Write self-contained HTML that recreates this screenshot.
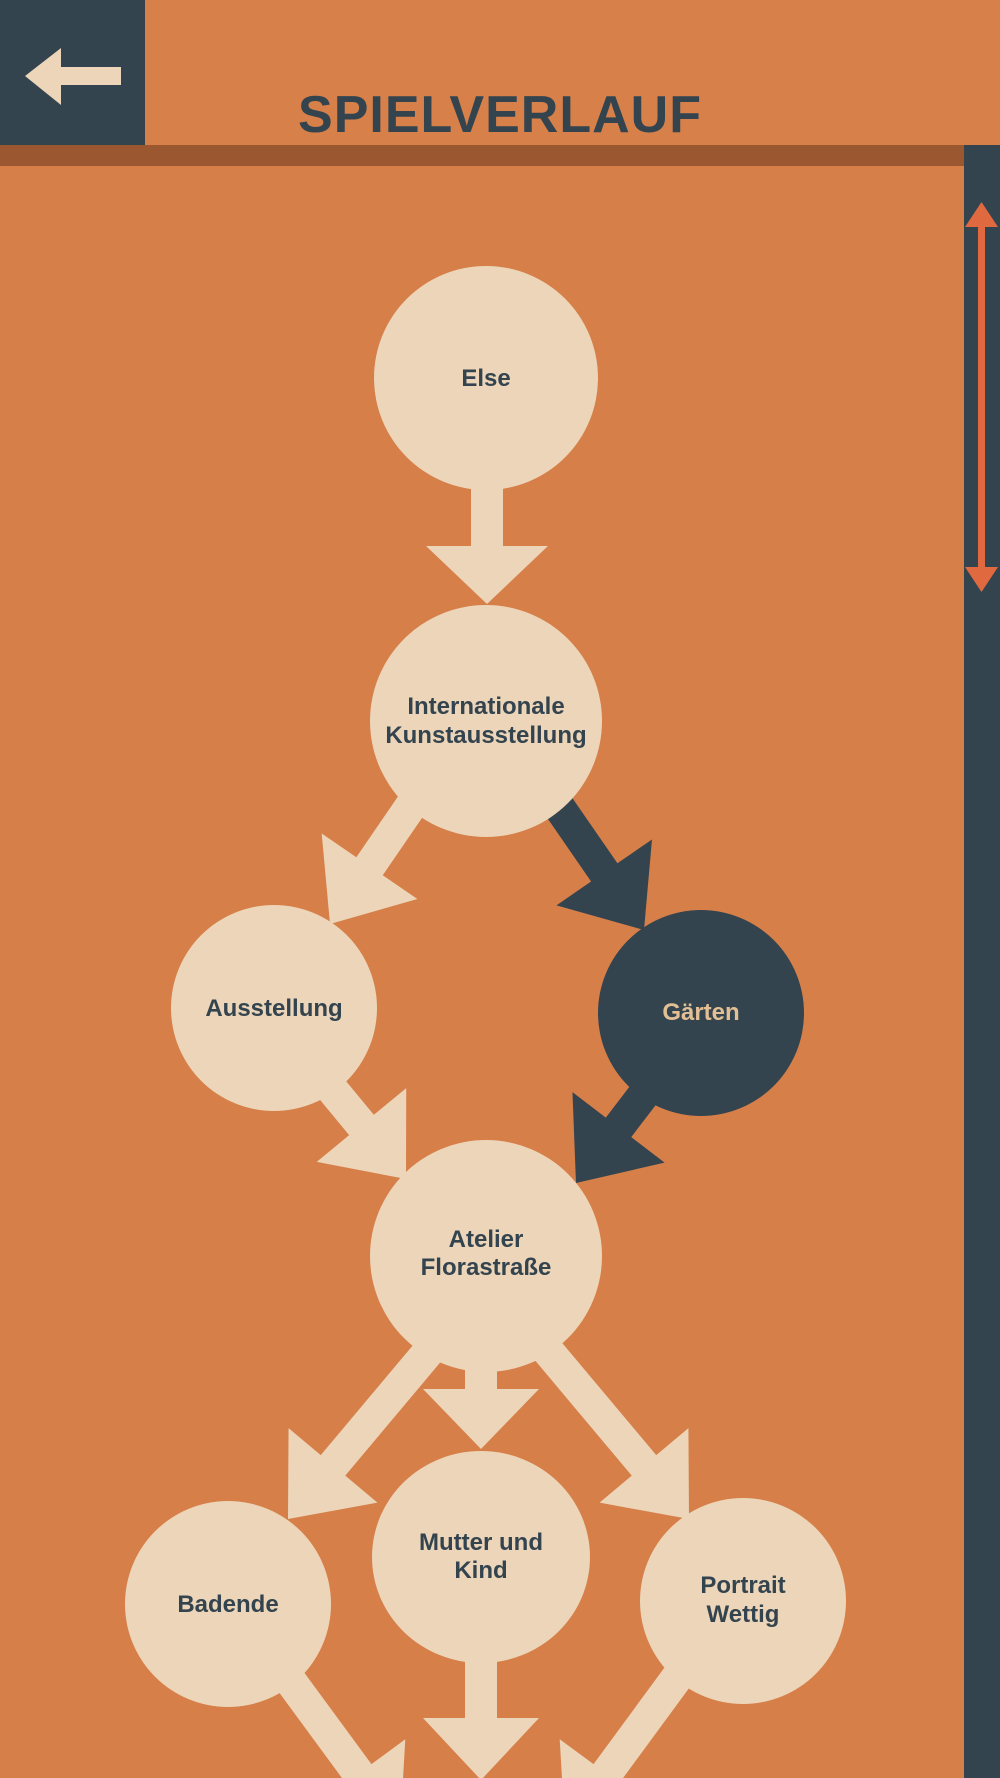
<!DOCTYPE html>
<html><head><meta charset="utf-8"><style>
html,body{margin:0;padding:0}
body{width:1000px;height:1778px;overflow:hidden;background:#d67f49;position:relative;font-family:"Liberation Sans",sans-serif}
</style></head><body>
<svg width="1000" height="1778" viewBox="0 0 1000 1778" xmlns="http://www.w3.org/2000/svg" style="position:absolute;left:0;top:0">
<rect x="0" y="0" width="1000" height="1778" fill="#d67f49"/>
<!-- header -->
<rect x="0" y="0" width="1000" height="145" fill="#d7804a"/>
<rect x="0" y="0" width="145" height="145" fill="#34444f"/>
<polygon points="25,76 61,48 61,67 121,67 121,85 61,85 61,105" fill="#ecd5b8"/>
<text x="500" y="132" text-anchor="middle" font-family="Liberation Sans" font-weight="bold" font-size="52" letter-spacing="1" fill="#34444f">SPIELVERLAUF</text>
<rect x="0" y="145" width="964" height="21" fill="#9b5730"/>
<!-- sidebar -->
<rect x="964" y="145" width="36" height="1633" fill="#34444f"/>
<rect x="978" y="220" width="7" height="355" fill="#e0693f"/>
<polygon points="981.5,202 965,227 998,227" fill="#e0693f"/>
<polygon points="981.5,592 965,567 998,567" fill="#e0693f"/>
<!-- arrows -->
<g fill="#ecd5b8">
<g transform="translate(487,604)"><polygon points="0,0 -61,-58 -16,-58 -16,-130 16,-130 16,-58 61,-58"/></g>
<g transform="translate(330,924) rotate(34.4)"><polygon points="0,0 -58,-70 -16,-70 -16,-150 16,-150 16,-70 58,-70"/></g>
<g transform="translate(406,1179) rotate(-39.5)"><polygon points="0,0 -58,-70 -16,-70 -16,-120 16,-120 16,-70 58,-70"/></g>
<g transform="translate(288,1519) rotate(40)"><polygon points="0,0 -58,-70 -16,-70 -16,-240 16,-240 16,-70 58,-70"/></g>
<g transform="translate(481,1449)"><polygon points="0,0 -58,-60 -16,-60 -16,-110 16,-110 16,-60 58,-60"/></g>
<g transform="translate(689,1519) rotate(-40)"><polygon points="0,0 -58,-70 -16,-70 -16,-240 16,-240 16,-70 58,-70"/></g>
<g transform="translate(481,1780)"><polygon points="0,0 -58,-62 -16,-62 -16,-160 16,-160 16,-62 58,-62"/></g>
<g transform="translate(400,1830) rotate(-36.3)"><polygon points="0,0 -58,-70 -16,-70 -16,-230 16,-230 16,-70 58,-70"/></g>
<g transform="translate(565,1830) rotate(36.3)"><polygon points="0,0 -58,-70 -16,-70 -16,-230 16,-230 16,-70 58,-70"/></g>
</g>
<g fill="#34444f">
<g transform="translate(644,930) rotate(-34.6)"><polygon points="0,0 -58,-70 -16,-70 -16,-150 16,-150 16,-70 58,-70"/></g>
<g transform="translate(576,1183) rotate(37.4)"><polygon points="0,0 -58,-70 -16,-70 -16,-120 16,-120 16,-70 58,-70"/></g>
</g>
<!-- nodes -->
<g fill="#ecd5b8">
<circle cx="486" cy="378" r="112"/>
<circle cx="486" cy="721" r="116"/>
<circle cx="274" cy="1008" r="103"/>
<circle cx="486" cy="1256" r="116"/>
<circle cx="228" cy="1604" r="103"/>
<ellipse cx="481" cy="1557" rx="109" ry="106"/>
<circle cx="743" cy="1601" r="103"/>
</g>
<circle cx="701" cy="1013" r="103" fill="#34444f"/>
<g font-family="Liberation Sans" font-weight="bold" font-size="24" fill="#34444f" text-anchor="middle">
<text x="486" y="386">Else</text>
<text x="486" y="714">Internationale</text>
<text x="486" y="743">Kunstausstellung</text>
<text x="274" y="1016">Ausstellung</text>
<text x="701" y="1020" fill="#e3bf95">Gärten</text>
<text x="486" y="1247">Atelier</text>
<text x="486" y="1275">Florastraße</text>
<text x="228" y="1612">Badende</text>
<text x="481" y="1550">Mutter und</text>
<text x="481" y="1578">Kind</text>
<text x="743" y="1593">Portrait</text>
<text x="743" y="1622">Wettig</text>
</g>
</svg>
</body></html>
